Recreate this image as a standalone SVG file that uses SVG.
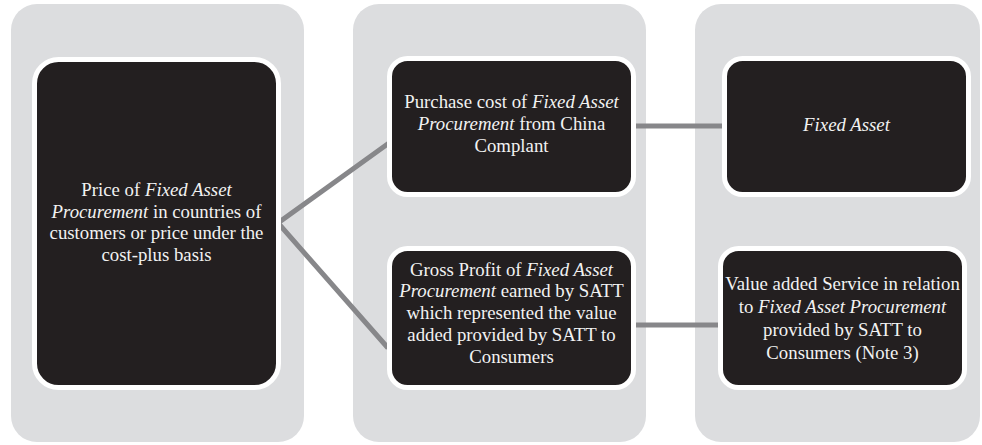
<svg xmlns="http://www.w3.org/2000/svg" width="982" height="445" viewBox="0 0 982 445">
  <style>
    .col { fill: #dcdddf; }
    .box { fill: #231f20; stroke: #ffffff; stroke-width: 5; }
    .link { stroke: #87878a; stroke-width: 5; fill: none; }
    text { font-family: "Liberation Serif", "Times New Roman", serif; font-size: 18.8px; fill: #f2f2f2; text-anchor: middle; }
    .i { font-style: italic; }
  </style>

  <!-- background columns -->
  <g id="columns">
    <rect class="col" x="11" y="4" width="293" height="438" rx="26"/>
    <rect class="col" x="353" y="4" width="293" height="438" rx="26"/>
    <rect class="col" x="695" y="4" width="285" height="438" rx="26"/>
  </g>

  <!-- connectors -->
  <g id="connectors">
    <polyline class="link" points="389,143 278,223 388,348"/>
    <line class="link" x1="636" y1="126" x2="724" y2="126"/>
    <line class="link" x1="636" y1="325" x2="720" y2="325"/>
  </g>

  <g id="price">
    <rect class="box" x="34.5" y="59.5" width="244" height="328" rx="24"/>
    <text x="156.5" y="196">Price of <tspan class="i">Fixed Asset</tspan></text>
    <text x="156.5" y="217.5"><tspan class="i">Procurement</tspan> in countries of</text>
    <text x="156.5" y="239">customers or price under the</text>
    <text x="156.5" y="260.5">cost-plus basis</text>
  </g>

  <g id="purchase-cost">
    <rect class="box" x="389.5" y="58.5" width="244" height="136" rx="18"/>
    <text x="511.5" y="108">Purchase cost of <tspan class="i">Fixed Asset</tspan></text>
    <text x="511.5" y="130"><tspan class="i">Procurement</tspan> from China</text>
    <text x="511.5" y="152">Complant</text>
  </g>

  <g id="gross-profit">
    <rect class="box" x="389.5" y="248.5" width="244" height="139" rx="18"/>
    <text x="511.5" y="275.5">Gross Profit of <tspan class="i">Fixed Asset</tspan></text>
    <text x="511.5" y="297"><tspan class="i">Procurement</tspan> earned by SATT</text>
    <text x="511.5" y="319">which represented the value</text>
    <text x="511.5" y="341">added provided by SATT to</text>
    <text x="511.5" y="363">Consumers</text>
  </g>

  <g id="fixed-asset">
    <rect class="box" x="724.5" y="58.5" width="244" height="136" rx="18"/>
    <text x="846.5" y="131" class="i">Fixed Asset</text>
  </g>

  <g id="value-added">
    <rect class="box" x="720.5" y="248.5" width="244" height="139" rx="18"/>
    <text x="842.5" y="290">Value added Service in relation</text>
    <text x="842.5" y="313">to <tspan class="i">Fixed Asset Procurement</tspan></text>
    <text x="842.5" y="336">provided by SATT to</text>
    <text x="842.5" y="359">Consumers (Note 3)</text>
  </g>
</svg>
